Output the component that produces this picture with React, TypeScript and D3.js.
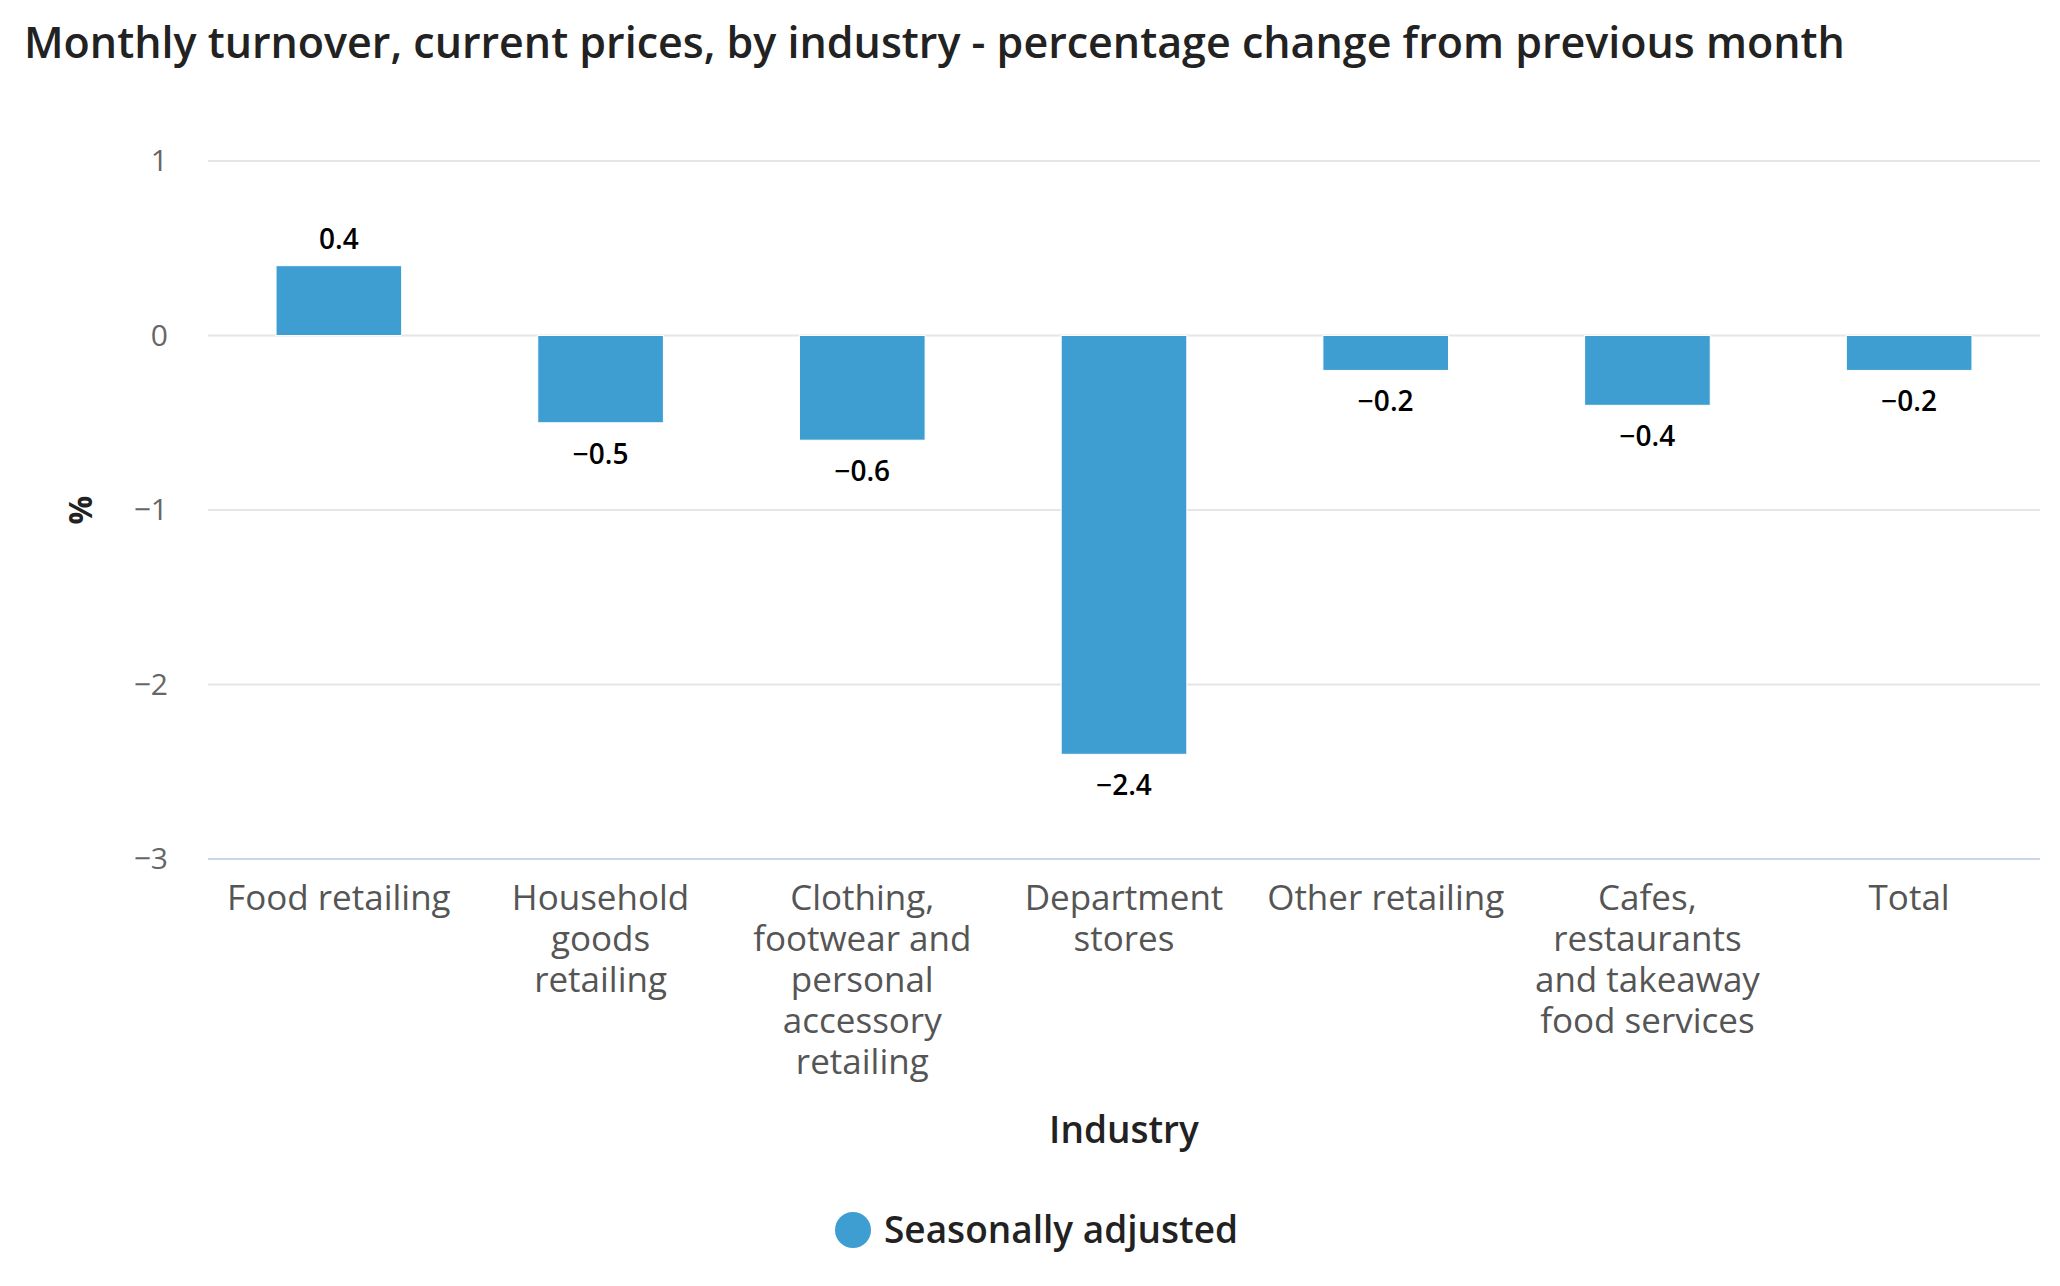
import React from "react";
import * as d3 from "d3";

// Chart values
const categories = [
  "Food retailing",
  "Household goods retailing",
  "Clothing, footwear and personal accessory retailing",
  "Department stores",
  "Other retailing",
  "Cafes, restaurants and takeaway food services",
  "Total",
];

// wrapped label lines, as the axis shows them
const categoryLines = [
  ["Food retailing"],
  ["Household", "goods", "retailing"],
  ["Clothing,", "footwear and", "personal", "accessory", "retailing"],
  ["Department", "stores"],
  ["Other retailing"],
  ["Cafes,", "restaurants", "and takeaway", "food services"],
  ["Total"],
];

const seasonallyAdjusted = [0.4, -0.5, -0.6, -2.4, -0.2, -0.4, -0.2];

const yTicks = [1, 0, -1, -2, -3];

const TITLE = "Monthly turnover, current prices, by industry - percentage change from previous month";
const SERIES_NAME = "Seasonally adjusted";

const W = 2060;
const H = 1286;
const FONT = "'Open Sans', 'Noto Sans', sans-serif";
const BAR_COLOR = "#3e9dd1";

export default function App() {
  const plot = { left: 208, right: 2040, top: 161, bottom: 859 };

  const x = d3
    .scaleBand<string>()
    .domain(categories)
    .range([plot.left, plot.right])
    .paddingInner(0.52)
    .paddingOuter(0.26);

  const y = d3.scaleLinear().domain([-3, 1]).range([plot.bottom, plot.top]);

  const fmt = (v: number) => (v < 0 ? "\u2212" + Math.abs(v) : String(v));

  return (
    <svg
      width={W}
      height={H}
      style={{ position: "absolute", left: 0, top: 0, background: "#fff" }}
      fontFamily={FONT}
    >
      {/* title */}
      <text x={24} y={58} fontSize={43} fontWeight={600} fill="#222">
        {TITLE}
      </text>

      {/* grid */}
      {yTicks.map((t) => (
        <g key={t}>
          {t !== -3 && (
            <line
              x1={plot.left}
              x2={plot.right}
              y1={y(t)}
              y2={y(t)}
              stroke="#e6e6e6"
              strokeWidth={2}
            />
          )}
          <text
            x={168}
            y={y(t) + 10}
            textAnchor="end"
            fontSize={30}
            fill="#666"
          >
            {fmt(t)}
          </text>
        </g>
      ))}

      {/* x axis line */}
      <line
        x1={plot.left}
        x2={plot.right}
        y1={y(-3)}
        y2={y(-3)}
        stroke="#ccd6eb"
        strokeWidth={2}
      />

      {/* bars */}
      {categories.map((c, i) => {
        const v = seasonallyAdjusted[i];
        const y0 = y(Math.max(0, v));
        const y1 = y(Math.min(0, v));
        return (
          <rect
            key={c}
            x={x(c)}
            y={y0}
            width={x.bandwidth()}
            height={y1 - y0}
            fill={BAR_COLOR}
            stroke="#fff"
            strokeWidth={1}
          />
        );
      })}

      {/* data labels */}
      {categories.map((c, i) => {
        const v = seasonallyAdjusted[i];
        const cx = (x(c) ?? 0) + x.bandwidth() / 2;
        const ly = v >= 0 ? y(v) - 17 : y(v) + 41;
        return (
          <text
            key={c}
            x={cx}
            y={ly}
            textAnchor="middle"
            fontSize={28}
            fontWeight={600}
            fill="#000"
          >
            {fmt(v)}
          </text>
        );
      })}

      {/* category labels */}
      {categories.map((c, i) => {
        const cx = (x(c) ?? 0) + x.bandwidth() / 2;
        return (
          <text key={c} x={cx} y={910} textAnchor="middle" fontSize={35} fill="#555">
            {categoryLines[i].map((line, j) => (
              <tspan key={j} x={cx} dy={j === 0 ? 0 : 41}>
                {line}
              </tspan>
            ))}
          </text>
        );
      })}

      {/* axis titles */}
      <text
        x={(plot.left + plot.right) / 2}
        y={1143}
        textAnchor="middle"
        fontSize={37}
        fontWeight={600}
        fill="#222"
      >
        Industry
      </text>
      <text
        transform={`translate(92, ${(plot.top + plot.bottom) / 2}) rotate(-90)`}
        textAnchor="middle"
        fontSize={32}
        fontWeight={700}
        fill="#222"
      >
        %
      </text>

      {/* legend */}
      <circle cx={853} cy={1230} r={18} fill={BAR_COLOR} />
      <text x={884} y={1243} fontSize={37} fontWeight={600} fill="#222">
        {SERIES_NAME}
      </text>
    </svg>
  );
}
